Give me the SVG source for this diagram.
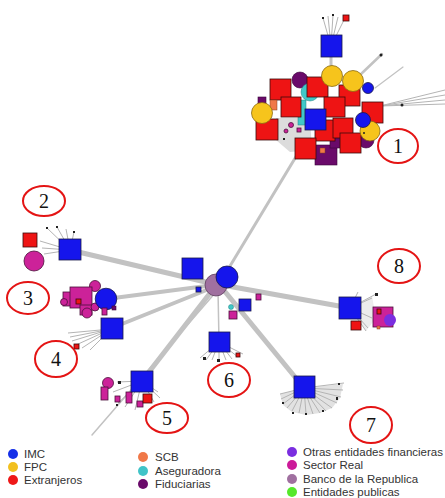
<svg xmlns="http://www.w3.org/2000/svg" width="445" height="498" viewBox="0 0 445 498">
<style>
.b{fill:#1515ec;stroke:#1a1a4a;stroke-width:0.8}
.r{fill:#ee1414;stroke:#3a0c0c;stroke-width:0.8}
.y{fill:#f6c41c;stroke:#8a6a10;stroke-width:0.8}
.p{fill:#cc2299;stroke:#4a0f3a;stroke-width:0.8}
.f{fill:#6a0a6a;stroke:#3a053a;stroke-width:0.6}
.t{fill:#40c8c8;stroke:#208080;stroke-width:0.5}
.o{fill:#f07848;stroke:#804020;stroke-width:0.5}
.k{fill:#222}
.br{fill:#a070a0;stroke:#604060;stroke-width:0.8}
.e{stroke:#c2c2c2;fill:none;stroke-linecap:round}
.fan{stroke:#b4b4b4;stroke-width:1;fill:none}
.lbl{fill:#fff;stroke:#e41414;stroke-width:2}
.num{font-family:"Liberation Serif","Times New Roman",serif;font-size:20px;text-anchor:middle;fill:#111}
.leg{font-family:"Liberation Sans",Arial,sans-serif;font-size:11.5px;fill:#333}
</style>
<rect width="445" height="498" fill="#fff"/>
<g id="connectors">
  <line class="e" x1="224" y1="276" x2="300" y2="150" stroke-width="3"/>
  <line class="e" x1="214" y1="284" x2="70" y2="250" stroke-width="5"/>
  <line class="e" x1="214" y1="285" x2="106" y2="299" stroke-width="4"/>
  <line class="e" x1="214" y1="287" x2="112" y2="328" stroke-width="4"/>
  <line class="e" x1="214" y1="288" x2="142" y2="381" stroke-width="5"/>
  <line class="e" x1="222" y1="285" x2="92" y2="435" stroke-width="1.5"/>
  <line class="e" x1="218" y1="290" x2="219" y2="342" stroke-width="1.5"/>
  <line class="e" x1="222" y1="288" x2="304" y2="388" stroke-width="5"/>
  <line class="e" x1="222" y1="285" x2="350" y2="308" stroke-width="5"/>
  <line class="e" x1="331" y1="57" x2="331" y2="70" stroke-width="3"/>
  <line class="e" x1="360" y1="75" x2="382" y2="54" stroke-width="2.5"/>
  <line class="e" x1="375" y1="88" x2="403" y2="67" stroke-width="1.2"/>
  <path class="fan" d="M380 106 L445 90 M380 106 L445 95 M380 106 L445 100 M380 106 L445 104"/>
  <path class="fan" d="M331 46 L323 18 M331 46 L328 16 M331 46 L333 15 M331 46 L338 17 M331 46 L345 18"/>
  <path class="fan" d="M70 250 L47 228 M70 250 L57 227 M70 250 L66 229 M70 250 L74 232 M70 250 L40 241 M70 250 L42 248 M70 250 L44 254"/>
  <path class="fan" d="M111 329 L68 333 M111 329 L70 337 M111 329 L72 341 M111 329 L76 345 M111 329 L82 348 M111 329 L90 350"/>
  <path class="fan" d="M142 381 L117 382 M142 381 L113 392 M142 381 L118 403 M142 381 L125 407 M142 381 L135 410 M142 381 L158 392 M142 381 L160 398 M142 381 L154 402"/>
  <path class="fan" d="M219 342 L200 358 M219 342 L206 360 M219 342 L212 360 M219 342 L219 361 M219 342 L226 360 M219 342 L232 359 M219 342 L238 357 M219 342 L243 354"/>
  <path d="M350 308 L372 296 L376 318 L366 331 Z" fill="#ececec"/>
  <path class="fan" d="M350 308 L372 298 M350 308 L376 294 M350 308 L372 318 M350 308 L368 328 M350 308 L366 331 M350 308 L358 292"/>
  <path d="M304 388 L343 384 L340 398 L332 408 L320 413 L306 415 L292 412 L283 405 L280 394 Z" fill="#e2e2e2"/>
  <path class="fan" stroke-width="1.6" d="M304 388 L344 383 M304 388 L343 390 M304 388 L341 397 M304 388 L337 403 M304 388 L332 408 M304 388 L326 411 M304 388 L320 413 M304 388 L313 414 M304 388 L306 414 M304 388 L299 413 M304 388 L292 411 M304 388 L287 408 M304 388 L283 404 M304 388 L281 399 M304 388 L280 394"/>
</g>
<g id="cluster1">
  <polygon points="276,118 310,118 312,150 290,152 276,140" fill="#dcdcdc"/>
  <rect class="f" x="258" y="97" width="8" height="14"/>
  <circle class="f" cx="300" cy="80" r="8"/>
  <rect class="f" x="315" y="145" width="22" height="20"/>
  <circle class="f" cx="366" cy="140" r="8"/>
  <rect class="f" x="330" y="128" width="18" height="20"/>
  <circle class="t" cx="310" cy="92" r="9"/>
  <rect class="t" x="298" y="100" width="8" height="25"/>
  <circle class="t" cx="352" cy="145" r="3"/>
  <rect class="r" x="270" y="79" width="21" height="21"/>
  <rect class="r" x="307" y="77" width="21" height="20"/>
  <rect class="r" x="339" y="85" width="21" height="21"/>
  <rect class="r" x="281" y="97" width="20" height="20"/>
  <rect class="r" x="324" y="97" width="21" height="20"/>
  <rect class="r" x="362" y="102" width="21" height="21"/>
  <rect class="r" x="256" y="119" width="22" height="21"/>
  <rect class="r" x="315" y="120" width="20" height="21"/>
  <rect class="r" x="333" y="118" width="20" height="20"/>
  <rect class="r" x="340" y="133" width="21" height="20"/>
  <rect class="r" x="295" y="138" width="21" height="21"/>
  <rect class="o" x="270" y="100" width="7" height="10"/>
  <rect class="o" x="320" y="148" width="5" height="5"/>
  <circle class="p" cx="291" cy="125" r="2.5"/>
  <circle class="p" cx="286" cy="131" r="2"/>
  <rect class="p" x="297" y="128" width="4" height="4"/>
  <rect class="k" x="283" y="138" width="2" height="2"/>
  <circle class="y" cx="332" cy="76" r="10.5"/>
  <circle class="y" cx="353" cy="81" r="10.5"/>
  <circle class="y" cx="262" cy="113" r="10.5"/>
  <circle class="y" cx="370" cy="131" r="10"/>
  <circle class="k" cx="364" cy="133" r="1"/>
  <circle class="b" cx="368" cy="88" r="5.5"/>
  <circle class="b" cx="363" cy="120" r="7.5"/>
  <rect class="b" x="305" y="109" width="21" height="21"/>
  <rect class="b" x="321" y="35" width="21" height="22"/>
  <rect class="r" x="343" y="15" width="6" height="6"/>
  <rect class="k" x="322" y="17" width="2" height="2"/>
  <rect class="k" x="332" y="14" width="2" height="2"/>
  <circle class="k" cx="381" cy="55" r="1.5"/>
  <circle class="k" cx="402" cy="105" r="1.5"/>
</g>
<g id="hub">
  <rect class="b" x="182" y="258" width="21" height="21"/>
  <rect class="b" x="196" y="287" width="5" height="5"/>
  <circle class="br" cx="216" cy="285" r="11"/>
  <circle class="b" cx="227" cy="277" r="11"/>
  <circle class="t" cx="231" cy="307" r="2.5"/>
  <rect class="p" x="229" y="311" width="8" height="8"/>
  <rect class="b" x="239" y="299" width="12" height="12"/>
  <rect class="p" x="256" y="294" width="5" height="6"/>
</g>
<g id="node2">
  <rect class="r" x="23" y="233" width="14" height="14"/>
  <circle class="p" cx="34" cy="261" r="10"/>
  <rect class="b" x="59" y="239" width="22" height="21"/>
  <rect class="k" x="46" y="227" width="2" height="2"/>
  <rect class="k" x="56" y="226" width="2" height="2"/>
  <rect class="k" x="73" y="231" width="2" height="2"/>
</g>
<g id="node3">
  <circle class="p" cx="95" cy="286" r="5.5"/>
  <rect class="p" x="63" y="292" width="10" height="14"/>
  <rect class="p" x="70" y="287" width="22" height="21"/>
  <circle class="p" cx="64" cy="302" r="3.5"/>
  <rect class="p" x="80" y="305" width="12" height="10"/>
  <circle class="p" cx="87" cy="313" r="5"/>
  <circle class="p" cx="95" cy="307" r="4"/>
  <rect class="r" x="76" y="299" width="5" height="5"/>
  <circle class="b" cx="106" cy="299" r="10.8"/>
  <rect class="p" x="102" y="308" width="5" height="7"/>
  <rect class="f" x="112" y="306" width="4" height="4"/>
</g>
<g id="node4">
  <rect class="b" x="101" y="318" width="22" height="21"/>
  <rect class="r" x="74" y="344" width="5" height="5"/>
</g>
<g id="node5">
  <circle class="p" cx="108" cy="383" r="5.5"/>
  <rect class="p" x="101" y="387" width="7" height="13"/>
  <rect class="p" x="115" y="396" width="5" height="6"/>
  <rect class="p" x="126" y="392" width="6" height="11"/>
  <rect class="p" x="137" y="401" width="6" height="6"/>
  <rect class="r" x="143" y="394" width="9" height="9"/>
  <rect class="k" x="118" y="381" width="3" height="3"/>
  <rect class="k" x="116" y="404" width="2" height="2"/>
  <rect class="b" x="131" y="371" width="22" height="21"/>
</g>
<g id="node6">
  <rect class="b" x="209" y="332" width="21" height="20"/>
  <rect class="k" x="203" y="357" width="3" height="3"/>
  <rect class="k" x="217" y="359" width="3" height="3"/>
  <rect class="r" x="236" y="353" width="4" height="4"/>
</g>
<g id="node7">
  <rect class="b" x="294" y="376" width="21" height="22"/>
  <rect class="k" x="338" y="383" width="2" height="2"/>
  <rect class="k" x="336" y="397" width="2" height="3"/>
  <rect class="k" x="322" y="410" width="2" height="2"/>
  <rect class="k" x="305" y="413" width="2" height="2"/>
  <rect class="k" x="292" y="412" width="2" height="2"/>
  <rect class="k" x="282" y="402" width="2" height="2"/>
</g>
<g id="node8">
  <rect class="b" x="339" y="297" width="22" height="22"/>
  <rect class="r" x="351" y="321" width="10" height="9"/>
  <rect class="p" x="373" y="307" width="20" height="20"/>
  <circle fill="#7a2ee0" cx="390" cy="320" r="6"/>
  <rect class="r" x="377" y="309" width="4" height="5"/>
  <rect class="o" x="377" y="326" width="3" height="3"/>
  <rect class="k" x="375" y="293" width="3" height="3"/>
</g>
<g id="labels">
  <g id="label1"><ellipse class="lbl" cx="398" cy="146" rx="20" ry="17"/><text class="num" x="398" y="153">1</text></g>
  <g id="label2"><ellipse class="lbl" cx="44" cy="201" rx="21" ry="15"/><text class="num" x="44" y="208">2</text></g>
  <g id="label3"><ellipse class="lbl" cx="28" cy="298" rx="21" ry="16"/><text class="num" x="28" y="305">3</text></g>
  <g id="label4"><ellipse class="lbl" cx="56" cy="359" rx="21" ry="18"/><text class="num" x="56" y="366">4</text></g>
  <g id="label5"><ellipse class="lbl" cx="167" cy="418" rx="21" ry="15"/><text class="num" x="167" y="425">5</text></g>
  <g id="label6"><ellipse class="lbl" cx="229" cy="380" rx="21" ry="17"/><text class="num" x="229" y="387">6</text></g>
  <g id="label7"><ellipse class="lbl" cx="371" cy="425" rx="21" ry="18"/><text class="num" x="371" y="432">7</text></g>
  <g id="label8"><ellipse class="lbl" cx="399" cy="266" rx="21" ry="17"/><text class="num" x="399" y="273">8</text></g>
</g>
<g id="legend">
  <circle cx="13" cy="454" r="5" fill="#1530e8"/><text class="leg" x="24" y="458">IMC</text>
  <circle cx="13" cy="467" r="5" fill="#f2c01e"/><text class="leg" x="24" y="471">FPC</text>
  <circle cx="13" cy="480" r="5" fill="#ee1818"/><text class="leg" x="24" y="484">Extranjeros</text>
  <circle cx="143" cy="457" r="5" fill="#f07848"/><text class="leg" x="155" y="461">SCB</text>
  <circle cx="143" cy="471" r="5" fill="#40c4c8"/><text class="leg" x="155" y="475">Aseguradora</text>
  <circle cx="143" cy="484" r="5" fill="#6a0a6a"/><text class="leg" x="155" y="488">Fiduciarias</text>
  <circle cx="292" cy="452" r="5" fill="#7a2ee0"/><text class="leg" x="303" y="456">Otras entidades financieras</text>
  <circle cx="292" cy="465" r="5" fill="#cc1a99"/><text class="leg" x="303" y="469">Sector Real</text>
  <circle cx="292" cy="479" r="5" fill="#a070a0"/><text class="leg" x="303" y="483">Banco de la Republica</text>
  <circle cx="292" cy="492" r="5" fill="#55e82a"/><text class="leg" x="303" y="496">Entidades publicas</text>
</g>
</svg>
